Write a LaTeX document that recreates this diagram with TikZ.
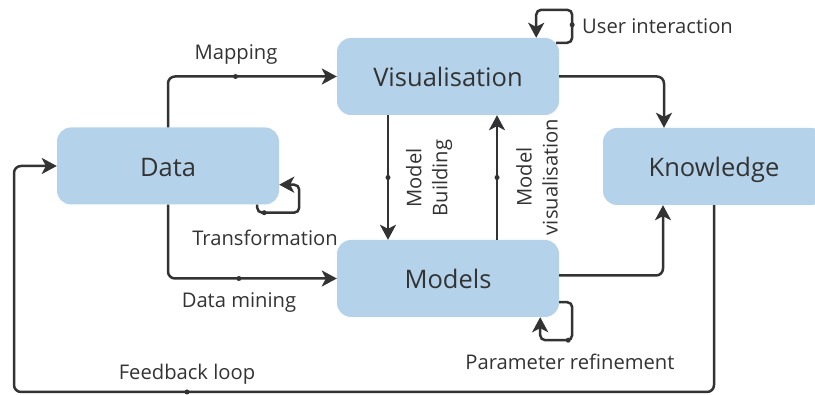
\documentclass[tikz,border=0pt]{standalone}
\usepackage{fontspec}
\setmainfont{Open Sans}
\usetikzlibrary{arrows.meta}
\definecolor{boxblue}{RGB}{180,211,235}
\definecolor{ink}{RGB}{51,51,51}

\begin{document}
\begin{tikzpicture}[x=1pt,y=1pt,
  stage/.style={fill=boxblue, rounded corners=14pt, minimum width=222pt, minimum height=77pt,
    inner sep=0pt, text height=21pt, text depth=0pt, text=ink, font=\fontsize{25.5}{28}\selectfont},
  flow/.style={draw=ink, line width=2.5pt, rounded corners=7pt,
    -{Stealth[length=15pt,width=16pt,inset=4pt]}},
  tag/.style={text=ink, inner sep=0pt, font=\fontsize{20.2}{26}\selectfont},
  joint/.style={circle, fill=ink, inner sep=0pt, minimum size=5pt}]
\useasboundingbox (0,0) rectangle (815,395);

% the four stages
\node[stage] (data) at (168,229) {Data};
\node[stage] (vis) at (448,318.5) {Visualisation};
\node[stage] (models) at (448,116.5) {Models};
\node[stage] (know) at (714,228.5) {Knowledge};

% data -> visualisation / models
\draw[flow] (data.north) |- node[joint, pos=0.70] (mapdot) {} (vis.west);
\node[tag] (maplbl) at (236,340) {Mapping};
\draw[flow] (data.south) |- node[joint, pos=0.71] (minedot) {} (models.west);
\node[tag] (minelbl) at (239,92) {Data mining};

% transformation loop
\draw[flow, rounded corners=5pt] ([xshift=-22pt]data.south east) -- ++(0,-8) -- ++(42,0)
  -- ++(0,28) -- ([yshift=20pt]data.south east);
\node[joint] (trdot) at ([xshift=-15pt,yshift=-8pt]data.south east) {};
\node[tag] (trlbl) at (265,157) {Transformation};

% visualisation <-> models
\draw[flow] ([xshift=-60pt]vis.south) -- node[joint] (builddot) {} ([xshift=-60pt]models.north);
\node[tag, rotate=90, align=center] (buildlbl) at (429,217) {Model\\Building};
\draw[flow] ([xshift=49pt]models.north) -- node[joint] (visdot) {} ([xshift=49pt]vis.south);
\node[tag, rotate=90, align=center] (vislbl) at (537,218) {Model\\visualisation};

% user interaction loop
\draw[flow, rounded corners=5pt] ([xshift=-3pt,yshift=-5pt]vis.north east) -- ++(16,0) -- ++(0,33)
  -- ++(-36,0) -- ([xshift=-23pt]vis.north east);
\node[joint] (uidot) at ([xshift=13pt,yshift=13pt]vis.north east) {};
\node[tag, anchor=west] (uilbl) at (582,369) {User interaction};

% parameter refinement loop
\draw[flow, rounded corners=5pt] ([yshift=15pt]models.south east) -- ++(13,0) -- ++(0,-38)
  -- ++(-32,0) -- ([xshift=-19pt]models.south east);
\node[joint] (prdot) at ([xshift=9pt,yshift=-23pt]models.south east) {};
\node[tag] (prlbl) at (570,33) {Parameter refinement};

% into knowledge
\draw[flow] (vis.east) -| ([xshift=-50pt]know.north);
\draw[flow] ([yshift=3pt]models.east) -| ([xshift=-51pt]know.south);

% feedback loop
\coordinate (fbcorner) at (14,3);
\draw[flow] (know.south) |- (fbcorner) |- (data.west);
\node[joint] (fbdot) at (187,3) {};
\node[tag] (fblbl) at (187,21) {Feedback loop};

\end{tikzpicture}
\end{document}
